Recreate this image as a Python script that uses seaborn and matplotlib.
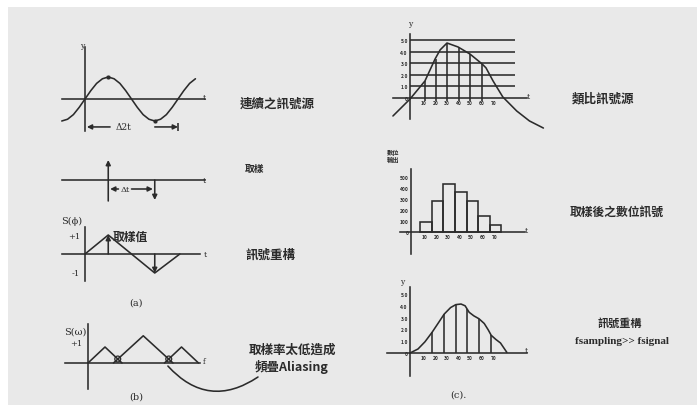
import matplotlib
matplotlib.use('Agg')
import matplotlib.pyplot as plt
from matplotlib.patches import Rectangle
import seaborn as sns

sns.set_theme(style='white')
plt.rcParams['font.family'] = ['Noto Sans CJK TC', 'DejaVu Sans']

INK = '#2b2b2b'
LW = 1.15
W, H = 697, 410

# (a) continuous signal, t in periods
sine_t = [-0.25, -0.1875, -0.125, -0.0625, 0, 0.0625, 0.125, 0.1875, 0.25, 0.3125, 0.375, 0.4375,
          0.5, 0.5625, 0.625, 0.6875, 0.75, 0.8125, 0.875, 0.9375, 1.0, 1.0625, 1.125, 1.1875]
sine_y = [-1, -0.92, -0.71, -0.38, 0, 0.38, 0.71, 0.92, 1, 0.92, 0.71, 0.38,
          0, -0.38, -0.71, -0.92, -1, -0.92, -0.71, -0.38, 0, 0.38, 0.71, 0.92]
sample_t = [0.25, 0.75]
sample_v = [1, -1]
impulse_base = [-1.05, 0]
recon_t = [0, 0.25, 0.75, 1.02]
recon_y = [0, 1, -1, 0]

# (b) aliasing spectra
tri1_f, tri1_s = [0, 1, 2], [0, 1, 0]
tri2_f, tri2_s = [1.5, 3.25, 5.0], [0, 1.7, 0]
tri3_f, tri3_s = [4.5, 5.5, 6.5], [0, 1, 0]
overlap_f, overlap_s = [1.75, 4.75], [0.25, 0.25]

# (c) analog source, digital output, reconstruction
analog_t = [-1.47, 0, 1.29, 2.16, 2.6, 3.19, 4.14, 5.17, 6.2, 6.55, 7.16, 8.0, 9.2, 10.3, 11.5]
analog_y = [-1.55, -0.09, 1.47, 3.36, 4.15, 4.74, 4.40, 3.79, 2.95, 2.6, 1.47, 0.09, -1.12, -1.98, -2.59]
levels = [1, 2, 3, 4, 5]
level_labels = ['1.0', '2.0', '3.0', '4.0', '5.0']
c1_sample_t = [1.3, 2.2, 3.2, 4.2, 5.2, 6.2]
c1_sample_y = [1.5, 3.4, 4.74, 4.4, 3.8, 2.95]
time_labels = ['10', '20', '30', '40', '50', '60', '70']
time_ticks = [1.2, 2.2, 3.2, 4.2, 5.2, 6.2, 7.2]

digital_t = [1.3, 2.3, 3.3, 4.3, 5.3, 6.3, 7.3]
digital_y = [90, 280, 440, 360, 280, 150, 60]
digital_ticks = [100, 200, 300, 400, 500]

recon_c_t = [0, 0.69, 1.29, 1.9, 2.41, 2.95, 3.5, 3.95, 4.4, 4.75, 5.1, 5.5, 5.95, 6.4, 6.75, 7.0, 7.4, 7.8, 8.35]
recon_c_y = [0, 0.34, 0.95, 1.75, 2.5, 3.3, 3.85, 4.1, 4.15, 4.0, 3.45, 3.15, 2.9, 2.5, 1.95, 1.5, 1.15, 0.85, 0.05]
c3_sample_t = [1.9, 2.95, 3.95, 4.95, 5.95, 7.0]
c3_sample_y = [1.75, 3.3, 4.1, 3.7, 2.9, 1.5]

fig = plt.figure(figsize=(W / 100, H / 100), dpi=100)
fig.patch.set_facecolor('white')
fig.patches.append(Rectangle((8 / W, 4 / H), 1, (H - 12) / H, transform=fig.transFigure,
                             facecolor='#e9e9e9', edgecolor='none', zorder=-10))


def make_ax(box):
    l, t, r, b = box
    ax = fig.add_axes([l / W, 1 - b / H, (r - l) / W, (b - t) / H])
    ax.patch.set_alpha(0)
    return ax


def frame(ax, box, origin, unit, xspan=None, yspan=None):
    l, t, r, b = box
    ox, oy = origin
    ux, uy = unit
    ax.set_xlim((l - ox) / ux, (r - ox) / ux)
    ax.set_ylim((oy - b) / uy, (oy - t) / uy)
    for s in ('top', 'right'):
        ax.spines[s].set_visible(False)
    for s, span, conv in (('bottom', xspan, lambda p: (p - ox) / ux),
                          ('left', yspan, lambda p: (oy - p) / uy)):
        sp = ax.spines[s]
        if span is None:
            sp.set_visible(False)
            continue
        sp.set_position(('data', 0))
        sp.set_bounds(*sorted(conv(p) for p in span))
        sp.set_color(INK)
        sp.set_linewidth(LW)
    ax.tick_params(length=0, labelsize=3.5, pad=1.5, colors=INK)


def arrow(ax, x0, y0, x1, y1, style='-|>'):
    ax.annotate('', xy=(x1, y1), xytext=(x0, y0),
                arrowprops=dict(arrowstyle=style, color=INK, lw=LW, shrinkA=0, shrinkB=0,
                                mutation_scale=7))


def label(x, y, s, size=9, ha='left', **kw):
    kw.setdefault('weight', 'bold')
    fig.text(x / W, 1 - y / H, s, fontsize=size, ha=ha, va='center', color=INK, **kw)


# (a) top: continuous signal
box = (55, 40, 215, 140)
ax = make_ax(box)
sns.lineplot(x=sine_t, y=sine_y, sort=False, estimator=None, color=INK, lw=LW, ax=ax)
sns.scatterplot(x=sample_t, y=sample_v, color=INK, s=12, ax=ax)
frame(ax, box, (85, 100), (93, 22), xspan=(62, 205), yspan=(48, 132))
ax.set_xticks([]); ax.set_yticks([])
arrow(ax, 0.27, -1.27, 0.02, -1.27)
arrow(ax, 0.75, -1.27, 1.0, -1.27)
ax.vlines(1.0, -1.45, -1.1, color=INK, lw=LW)
ax.text(0.41, -1.27, 'Δ2t', fontsize=6.5, ha='center', va='center', color=INK, family='DejaVu Serif')

# (a) middle: sampling impulses
box = (55, 150, 215, 210)
ax = make_ax(box)
frame(ax, box, (85, 181), (93, 20), xspan=(62, 205), yspan=None)
ax.set_xticks([]); ax.set_yticks([])
for t, v, b0 in zip(sample_t, sample_v, impulse_base):
    arrow(ax, t, b0, t, v)
arrow(ax, 0.36, -0.45, 0.27, -0.45)
arrow(ax, 0.5, -0.45, 0.73, -0.45)
ax.text(0.43, -0.45, 'Δt', fontsize=6, ha='center', va='center', color=INK, family='DejaVu Serif')

# (a) bottom: reconstruction
box = (55, 215, 215, 290)
ax = make_ax(box)
sns.lineplot(x=recon_t, y=recon_y, sort=False, estimator=None, color=INK, lw=LW, ax=ax)
frame(ax, box, (85, 255), (93, 19), xspan=(62, 200), yspan=(228, 282))
ax.set_xticks([]); ax.set_yticks([])
for t, v in zip(sample_t, sample_v):
    arrow(ax, t, 0, t, v)

# (b) aliasing
box = (55, 320, 215, 395)
ax = make_ax(box)
for f, s in ((tri1_f, tri1_s), (tri2_f, tri2_s), (tri3_f, tri3_s)):
    sns.lineplot(x=f, y=s, sort=False, estimator=None, color=INK, lw=LW, ax=ax)
sns.scatterplot(x=overlap_f, y=overlap_s, s=18, facecolor='none', edgecolor=INK, linewidth=0.9, ax=ax)
frame(ax, box, (88, 364), (17, 16), xspan=(65, 200), yspan=(325, 390))
ax.set_xticks([]); ax.set_yticks([])
ax.annotate('', xy=(258 / W, 1 - 378 / H), xycoords='figure fraction',
            xytext=(4.7, -0.19), textcoords='data',
            arrowprops=dict(arrowstyle='-', connectionstyle='arc3,rad=0.43', color=INK, lw=LW,
                            shrinkA=0, shrinkB=0))

# (c) top: analog signal source
box = (385, 20, 550, 135)
ax = make_ax(box)
ax.hlines(levels, 0, 9.05, color=INK, lw=LW)
ax.vlines(c1_sample_t, -0.3, c1_sample_y, color=INK, lw=LW)
sns.lineplot(x=analog_t, y=analog_y, sort=False, estimator=None, color=INK, lw=LW, ax=ax)
frame(ax, box, (410, 99), (11.6, 11.6), xspan=(393, 527), yspan=(35, 120))
ax.set_xticks(time_ticks, time_labels, weight='bold')
ax.set_yticks([0] + levels, ['0'] + level_labels, weight='bold')

# (c) middle: digital output after sampling
box = (385, 165, 530, 260)
ax = make_ax(box)
sns.barplot(x=digital_t, y=digital_y, native_scale=True, fill=False, width=1, errorbar=None,
            color=INK, linewidth=LW, ax=ax)
frame(ax, box, (411, 233), (11.6, 0.11), xspan=(400, 525), yspan=(170, 255))
ax.set_xticks(time_ticks, time_labels, weight='bold')
ax.set_yticks([0] + digital_ticks, ['0'] + [str(v) for v in digital_ticks], weight='bold')

# (c) bottom: reconstruction
box = (385, 280, 530, 380)
ax = make_ax(box)
ax.vlines(c3_sample_t, 0, c3_sample_y, color=INK, lw=LW)
sns.lineplot(x=recon_c_t, y=recon_c_y, sort=False, estimator=None, color=INK, lw=LW, ax=ax)
frame(ax, box, (410, 354), (11.6, 11.8), xspan=(387, 527), yspan=(288, 377))
ax.set_xticks(time_ticks, time_labels, weight='bold')
ax.set_yticks([0] + levels, ['0'] + level_labels, weight='bold')

# texts
serif = dict(family='DejaVu Serif', weight='normal')
label(240, 104, '連續之訊號源')
label(245, 169, '取樣', size=7)
label(245, 255, '訊號重構')
label(113, 237, '取樣值', size=8.5)
label(292, 350, '取樣率太低造成', ha='center')
label(292, 367, '頻疊Aliasing', ha='center')
label(572, 99, '類比訊號源')
label(393, 156, '數位\n輸出', size=4.5, ha='center', linespacing=1.1)
label(570, 212, '取樣後之數位訊號', size=8.5)
label(620, 323, '訊號重構', size=8, ha='center')
label(622, 342, 'fsampling>> fsignal', size=8, ha='center', family='Liberation Serif')
label(136, 303, '(a)', size=7, ha='center', **serif)
label(136, 397, '(b)', size=7, ha='center', **serif)
label(458, 395, '(c).', size=7, ha='center', **serif)
label(72, 221, 'S(ϕ)', size=7, ha='center', **serif)
label(74, 237, '+1', size=6, ha='center', **serif)
label(76, 274, '-1', size=6, ha='center', **serif)
label(75, 332, 'S(ω)', size=7, ha='center', **serif)
label(76, 344, '+1', size=6, ha='center', **serif)
for x, y, s in ((82, 46, 'y'), (204, 98, 't'), (204, 181, 't'), (205, 255, 't'), (204, 362, 'f'),
                (410, 24, 'y'), (528, 97, 't'), (526, 231, 't'), (402, 282, 'y'), (526, 351, 't')):
    label(x, y, s, size=5.5, ha='center', **serif)

fig.savefig('out.png', dpi=100)
